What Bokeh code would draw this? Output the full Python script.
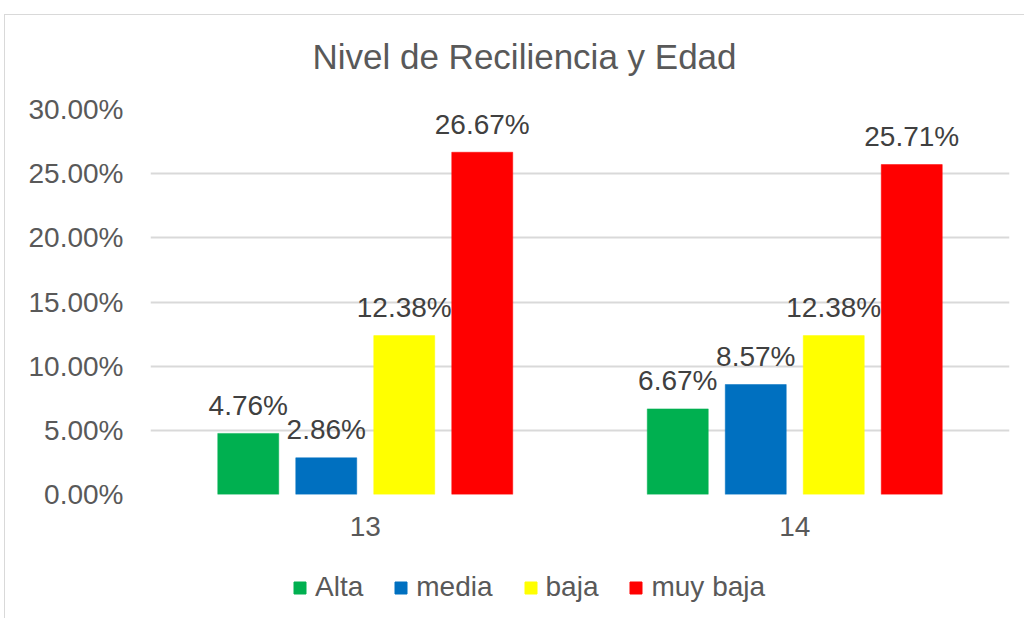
from bokeh.plotting import figure
from bokeh.layouts import column
from bokeh.models import (ColumnDataSource, FactorRange, Range1d, FixedTicker,
                          NumeralTickFormatter, Legend, LegendItem)
from bokeh.transform import dodge
from bokeh.core.properties import value
from bokeh.embed import file_html
from bokeh.resources import INLINE

title_text = "Nivel de Reciliencia y Edad"
categories = ["13", "14"]
series_names = ["Alta", "media", "baja", "muy baja"]
alta = [0.0476, 0.0667]
media = [0.0286, 0.0857]
baja = [0.1238, 0.1238]
muy_baja = [0.2667, 0.2571]
colors = ["#00B050", "#0070C0", "#FFFF00", "#FF0000"]
y_ticks = [0.0, 0.05, 0.10, 0.15, 0.20, 0.25, 0.30]

FONT = "Liberation Sans"
TXT = "#595959"
W = 1019
BL, BR = 145, 15

# ---- title strip ----
TH = 70
pt = figure(width=W, height=TH, x_range=Range1d(BL, W - BR), y_range=Range1d(0, TH),
            output_backend="svg", toolbar_location=None, x_axis_location=None,
            y_axis_location=None, min_border_left=BL, min_border_right=BR,
            min_border_top=0, min_border_bottom=0)
pt.outline_line_color = None
pt.grid.visible = False
pt.text(x=[519], y=[29], text=[title_text], text_font=value(FONT), text_font_size="35px",
        text_color=TXT, text_align="center", text_baseline="alphabetic")

# ---- main chart ----
MH = 470
p = figure(width=W, height=MH, x_range=FactorRange(*categories, range_padding=0),
           y_range=Range1d(0, 0.30), output_backend="svg", toolbar_location=None,
           min_border_left=BL, min_border_right=BR, min_border_top=24,
           min_border_bottom=61)
p.outline_line_color = None

data = dict(cat=categories, alta=alta, media=media, baja=baja, muy_baja=muy_baja)
keys = ["alta", "media", "baja", "muy_baja"]
for key, vals in zip(keys, [alta, media, baja, muy_baja]):
    data[key + "_lbl"] = [f"{v*100:.2f}%" for v in vals]
src = ColumnDataSource(data)

step = 0.1816
offsets = [-1.5 * step, -0.5 * step, 0.5 * step, 1.5 * step]
for key, col, off in zip(keys, colors, offsets):
    p.vbar(x=dodge("cat", off, range=p.x_range), top=key, width=0.142, source=src,
           fill_color=col, line_color=col, line_width=0.5)
    p.text(x=dodge("cat", off, range=p.x_range), y=key, text=key + "_lbl", source=src,
           text_font=value(FONT), text_font_size="28px", text_color="#404040",
           text_align="center", text_baseline="alphabetic", y_offset=-28)

p.xaxis.axis_line_color = None
p.xaxis.major_tick_line_color = None
p.xaxis.minor_tick_line_color = None
p.xaxis.major_label_text_font = FONT
p.xaxis.major_label_text_font_size = "28px"
p.xaxis.major_label_text_color = TXT
p.xaxis.major_label_standoff = 16
p.xaxis.group_text_font_size = "0px"

p.yaxis.ticker = FixedTicker(ticks=y_ticks)
p.yaxis.formatter = NumeralTickFormatter(format="0.00%")
p.yaxis.axis_line_color = None
p.yaxis.major_tick_line_color = None
p.yaxis.minor_tick_line_color = None
p.yaxis.major_label_text_font = FONT
p.yaxis.major_label_text_font_size = "28px"
p.yaxis.major_label_text_color = TXT
p.yaxis.major_label_standoff = 21

p.xgrid.grid_line_color = None
p.ygrid.grid_line_color = "#d9d9d9"
p.ygrid.grid_line_width = 2

# ---- legend strip ----
LH = 63
pl = figure(width=W, height=LH, x_range=FactorRange(*categories), y_range=Range1d(10, 11),
            output_backend="svg", toolbar_location=None, x_axis_location=None,
            y_axis_location=None, min_border_left=BL, min_border_right=BR,
            min_border_top=0, min_border_bottom=0)
pl.outline_line_color = None
pl.grid.visible = False
items = []
for key, name, col in zip(keys, series_names, colors):
    r = pl.vbar(x="cat", top=key, width=0.1, source=src, fill_color=col, line_color=col)
    items.append(LegendItem(label=name, renderers=[r]))
legend = Legend(items=items, orientation="horizontal", location=(142, 15),
                label_text_font=FONT, label_text_font_size="28px", label_text_color=TXT,
                glyph_width=15, glyph_height=15, label_standoff=8, spacing=30,
                padding=0, margin=0, border_line_color=None, background_fill_alpha=0)
pl.add_layout(legend, "center")

layout = column(pt, p, pl, spacing=0,
                styles={"border-top": "1px solid #d9d9d9", "border-left": "1px solid #d9d9d9",
                        "margin-left": "4px", "margin-top": "14px"})
open("out.html", "w").write(file_html(layout, INLINE))
